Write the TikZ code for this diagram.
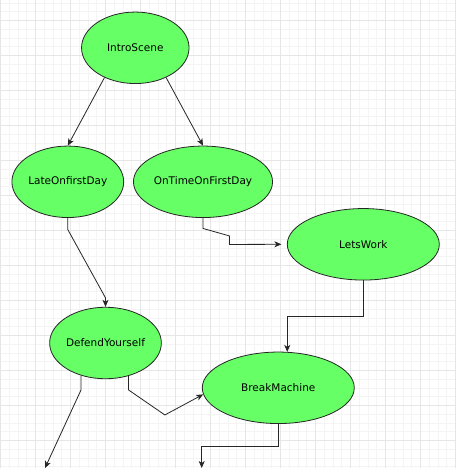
\documentclass[tikz,border=0pt]{standalone}
\usepackage{fontspec}
\setmainfont{DejaVu Sans}
\usetikzlibrary{shapes.geometric,positioning,arrows.meta}
\definecolor{scenegreen}{HTML}{66FF66}
\definecolor{gridmajor}{HTML}{E6E6E6}
\definecolor{gridminor}{HTML}{F4F4F4}

\begin{document}
\begin{tikzpicture}[x=1pt,y=-1pt,on grid,
   scene/.style={ellipse,draw=black!85,fill=scenegreen,line width=0.8pt,
      minimum width=107.5pt,minimum height=71.5pt,inner sep=0pt,
      font=\fontsize{10.5}{12}\selectfont},
   widescene/.style={scene,minimum width=152pt},
   link/.style={color=black!85,line width=0.8pt,
      -{Stealth[length=7pt,width=6pt,inset=2pt]}}]
   \useasboundingbox[fill=white] (0,0) rectangle (456,468);
   % background grid
   \foreach \i in {0,...,52} \draw[gridminor] (0.3+8.75*\i,0) -- ++(0,468);
   \foreach \i in {0,...,53} \draw[gridminor] (0,2.8+8.75*\i) -- ++(456,0);
   \foreach \i in {0,...,13} \draw[gridmajor] (0.3+35*\i,0) -- ++(0,468);
   \foreach \i in {0,...,12} \draw[gridmajor] (0,20.3+35*\i) -- ++(456,0);

   \node[scene] (IntroScene) at (135.3,47.8) {IntroScene};
   \node[scene] (LateOnfirstDay) [below left=134pt and 67.5pt of IntroScene] {LateOnfirstDay};
   \node[scene] (OnTimeOnFirstDay) [right=135.2pt of LateOnfirstDay] {OnTimeOnFirstDay};
   \node[widescene] (LetsWork) [below right=62.5pt and 160.3pt of OnTimeOnFirstDay] {LetsWork};
   \node[scene] (DefendYourself) [below right=161.2pt and 37.7pt of LateOnfirstDay] {DefendYourself};
   \node[widescene] (BreakMachine) [below right=44.8pt and 172.8pt of DefendYourself] {BreakMachine};
   \coordinate (outLeft) at (45,468);
   \coordinate (outRight) at (201.7,468);

   \path[link]
   (IntroScene.224) edge (LateOnfirstDay.north)
   (IntroScene.316) edge (OnTimeOnFirstDay.north);
   \draw[link] (LateOnfirstDay.south) -- ++(0,11.6) -- ([yshift=9pt]DefendYourself.north) -- (DefendYourself.north);
   \draw[link] (OnTimeOnFirstDay.south) -- ++(0,10.5) -- ++(26.5,7.5) -- ++(0,8.5) -- ([xshift=-5.5pt]LetsWork.west);
   \draw[link] (LetsWork.south) -- ++(0,36.3) -| (BreakMachine.76);
   \draw[link] (DefendYourself.305) -- ++(0,14) -- ++(36.3,25) -- (BreakMachine.185);
   \draw[link] (DefendYourself.233) -- ++(0,14.5) -- (outLeft);
   \draw[link] (BreakMachine.south) -- ++(0,22.4) -| (outRight);
\end{tikzpicture}
\end{document}
